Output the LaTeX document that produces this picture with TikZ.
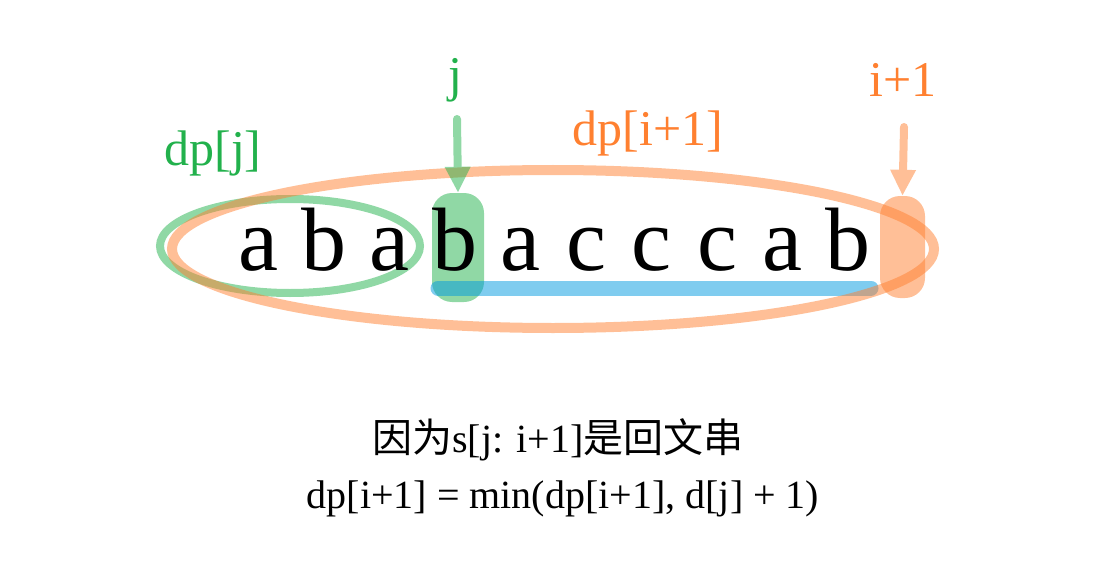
\documentclass[tikz,border=0pt]{standalone}
\usepackage{fontspec}
\usetikzlibrary{shapes.geometric,arrows.meta}
\setmainfont{Liberation Serif}
\newfontfamily\cjk{Noto Sans CJK SC}
\definecolor{gbase}{HTML}{22B14C}
\definecolor{obase}{HTML}{FF8030}
\definecolor{bbase}{HTML}{0099E0}
\begin{document}
\begin{tikzpicture}[x=1pt,y=-1pt,
  letter/.style={inner sep=0pt,anchor=base,font=\fontsize{90}{92}\selectfont},
  glabel/.style={inner sep=0pt,anchor=base,text=gbase,font=\fontsize{50}{52}\selectfont},
  olabel/.style={inner sep=0pt,anchor=base,text=obase,font=\fontsize{50}{52}\selectfont},
  note/.style={inner sep=0pt,anchor=base,font=\fontsize{40}{42}\selectfont},
  arr/.style={line width=8pt,line cap=round,-{Triangle[length=26pt,width=24pt]}},
]
\useasboundingbox (0,0) rectangle (1110,572);
% highlight boxes
\node[draw=none,fill=gbase,fill opacity=0.5,rounded corners=20pt,minimum width=52pt,minimum height=109pt,inner sep=0pt] (jbox) at (458,247.5) {};
\node[draw=none,fill=obase,fill opacity=0.5,rounded corners=20pt,minimum width=45pt,minimum height=102pt,inner sep=0pt] (ibox) at (902.5,247) {};
% blue bar
\coordinate (bl) at (438,288);
\coordinate (br) at (871,288);
\draw[bbase,opacity=0.5,line width=15pt,line cap=round] (bl) -- (br);
% ellipses
\node[draw=gbase,draw opacity=0.5,line width=8pt,ellipse,minimum width=260pt,minimum height=94pt,inner sep=0pt] (gell) at (290,246) {};
\node[draw=obase,draw opacity=0.5,line width=10pt,ellipse,minimum width=762pt,minimum height=158pt,inner sep=0pt] (oell) at (553,249) {};
% letters
\foreach \c [count=\k from 0] in {a,b,a,b,a,c,c,c,a,b}{
  \node[letter] (l\k) at (258+65.6*\k,270) {\c};
}
% labels
\node[glabel] (jl) at (455,92) {j};
\node[olabel] (il) at (903,97) {i+1};
\node[olabel] (dpi) at (648,146) {dp[i+1]};
\node[glabel] (dpj) at (213,166) {dp[j]};
% arrows
\coordinate (ja) at (457,119);
\coordinate (ia) at (904,127);
\begin{scope}[transparency group,opacity=0.5]
\draw[arr,gbase] (ja) -- (jbox.north);
\end{scope}
\begin{scope}[transparency group,opacity=0.5]
\draw[arr,obase] (ia) -- (ibox.north);
\end{scope}
% notes
\node[note] (n1) at (558,452) {{\cjk 因为}s[j: i+1]{\cjk 是回文串}};
\node[note] (n2) at (563,508) {dp[i+1] = min(dp[i+1], d[j] + 1)};
\end{tikzpicture}
\end{document}
